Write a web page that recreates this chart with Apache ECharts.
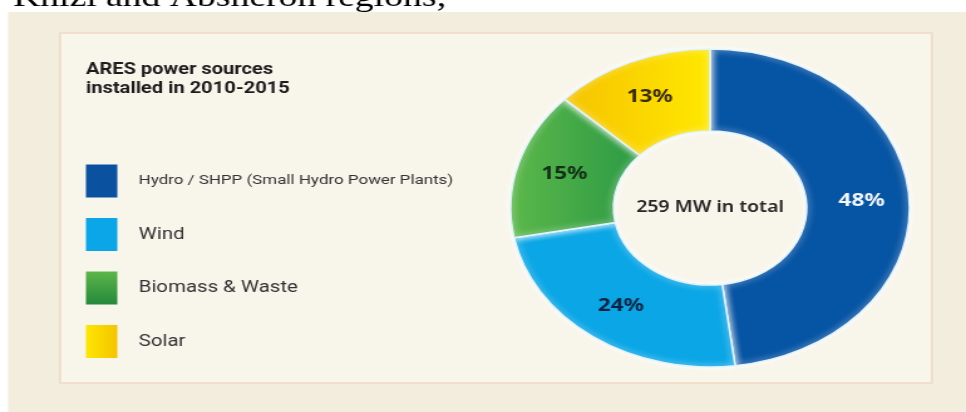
<!DOCTYPE html>
<html>
<head>
<meta charset="utf-8">
<script src="https://cdn.jsdelivr.net/npm/echarts@6/dist/echarts.min.js"></script>
<style>
  html, body { margin: 0; padding: 0; background: #ffffff; overflow: hidden; }
  #stage { width: 966px; height: 412px; overflow: hidden; position: relative; }
  /* the artwork is laid out on a 770px-wide canvas and widened to 966px */
  #chart { width: 770px; height: 412px; transform: scaleX(1.25455); transform-origin: 0 0; }
</style>
</head>
<body>
<div id="stage"><div id="chart"></div></div>
<script>
// ARES installed capacity by source, 2010-2015 (share of total, %)
const categories = ['Hydro / SHPP (Small Hydro Power Plants)', 'Wind', 'Biomass & Waste', 'Solar'];
const shares = [48, 24, 15, 13];
const chartTitle = 'ARES power sources\ninstalled in 2010-2015';
const centerLabel = '259 MW in total';
const headingText = 'Khizi and Absheron regions;';

const SANS = 'Roboto, "Noto Sans", sans-serif';
const NOTO = '"Noto Sans", Roboto, sans-serif';
const lin = (x2, y2, a, b) => new echarts.graphic.LinearGradient(0, 0, x2, y2, [
  { offset: 0, color: a }, { offset: 1, color: b }
]);

const sliceFill = [
  '#0654a4',
  '#0aa6e6',
  lin(1, 0, '#5cb84a', '#2b9a45'),
  lin(1, 0, '#f6c300', '#ffe800')
];
const swatchFill = [
  '#0a51a0',
  '#0aa6e8',
  lin(0, 1, '#5db64a', '#24893c'),
  lin(1, 0, '#ffe600', '#f4c400')
];
// the long hydro caption is set a little smaller than the short ones
const legendFontSize = [13.5, 16.3, 16.3, 16.3];
const labelInk = ['#f3f6fb', '#0b2442', '#142f18', '#3a2b00'];

const chart = echarts.init(document.getElementById('chart'), null, { renderer: 'canvas' });

chart.setOption({
  animation: false,
  backgroundColor: '#ffffff',
  graphic: [
    { type: 'rect', z: -10, shape: { x: 6.4, y: 12, width: 770, height: 412 },
      style: { fill: '#f2eddc' } },
    { type: 'rect', z: -9, shape: { x: 47.8, y: 33, width: 695, height: 350 },
      style: { fill: '#f8f5eb', stroke: '#efd9c4', lineWidth: 1.5 } },
    { type: 'text', z: 5, x: 10.4, y: -2,
      style: { text: headingText, fill: '#000000', fontSize: 30,
               fontFamily: '"Liberation Serif", "Times New Roman", serif',
               verticalAlign: 'middle', align: 'left' } },
    { type: 'text', z: 10, x: 566, y: 208,
      style: { text: centerLabel, fill: '#262626', fontSize: 15.5, fontWeight: 600,
               fontFamily: NOTO, align: 'center', verticalAlign: 'middle' } }
  ],
  title: {
    text: chartTitle,
    left: 68.5, top: 60, padding: 0,
    textStyle: { fontSize: 16, fontWeight: 'bold', color: '#1c1c1c', lineHeight: 19, fontFamily: SANS }
  },
  legend: {
    orient: 'vertical',
    left: 68.5, top: 164.5, padding: 0,
    itemWidth: 25, itemHeight: 33, itemGap: 20.5,
    icon: 'rect',
    selectedMode: false,
    itemStyle: { borderWidth: 0, shadowBlur: 0 },
    data: categories.map((name, i) => ({
      name,
      itemStyle: { color: swatchFill[i], borderWidth: 0 },
      textStyle: { fontSize: legendFontSize[i] }
    })),
    textStyle: { fontSize: 14, color: '#333333', fontFamily: SANS, padding: [0, 0, 0, 12] }
  },
  series: [{
    type: 'pie',
    center: [566, 208],
    radius: [77, 159],
    startAngle: 90,
    clockwise: true,
    silent: true,
    label: {
      position: 'inside',
      formatter: '{c}%',
      fontSize: 18, fontWeight: 'bold', fontFamily: NOTO
    },
    labelLine: { show: false },
    itemStyle: {
      borderColor: '#e2f4fb', borderWidth: 1.5,
      shadowBlur: 6, shadowColor: 'rgba(255,255,255,0.95)'
    },
    data: categories.map((name, i) => ({
      name,
      value: shares[i],
      itemStyle: { color: sliceFill[i] },
      label: { color: labelInk[i] }
    }))
  }]
});
</script>
</body>
</html>
